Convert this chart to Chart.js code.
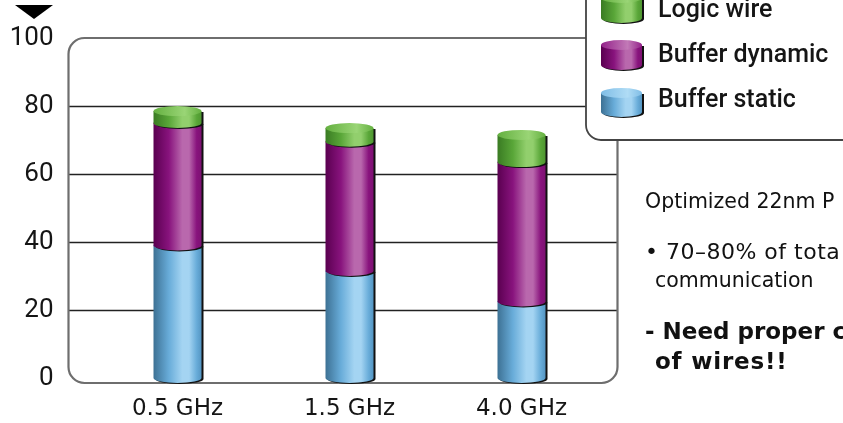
<!DOCTYPE html>
<html>
<head>
<meta charset="utf-8">
<script src="https://cdn.jsdelivr.net/npm/chart.js@4/dist/chart.umd.min.js"></script>
<style>
  html, body { margin: 0; padding: 0; background: #fff; overflow: hidden; }
  #wrap { position: relative; width: 843px; height: 423px; overflow: hidden; }
  #c { position: absolute; left: 0; top: 0; }
  .note { position: absolute; white-space: nowrap; color: #111; font-family: "DejaVu Sans", sans-serif; }
  .plain { font-size: 20.5px; line-height: 20.5px; }
  .strong { font-size: 23px; line-height: 23px; font-weight: bold; }
</style>
</head>
<body>
<div id="wrap">
  <canvas id="c" width="843" height="423"></canvas>
  <div class="note plain" style="left:645px; top:191px;">Optimized 22nm P</div>
  <div class="note plain" style="left:645px; top:242px; font-size:22px; letter-spacing:0.5px;">• 70–80% of tota</div>
  <div class="note plain" style="left:655px; top:270px;">communication</div>
  <div class="note strong" style="left:645px; top:320px;">- Need proper c</div>
  <div class="note strong" style="left:655px; top:350px; letter-spacing:0.8px;">of wires!!</div>
</div>
<script>
// Clock frequencies and power split (% of total), stacked bottom to top
const categories = ['0.5 GHz', '1.5 GHz', '4.0 GHz'];
const bufferStatic = [39, 31.5, 22.5];
const bufferDynamic = [36, 38, 41];
const logicWire = [3.5, 4, 8];
const yTickValues = [0, 20, 40, 60, 80, 100];
const seriesNames = ['Buffer static', 'Buffer dynamic', 'Logic wire'];

// Cylinder shading: left dark, body, highlight, right edge, top face
const palettes = {
  'Buffer static':  { dark: '#3d7194', mid: '#68acd9', light: '#a4d4f2', edge: '#5495c2', topA: '#7fbde6', topB: '#b0dcf5' },
  'Buffer dynamic': { dark: '#5a0050', mid: '#88137d', light: '#b968ad', edge: '#7d1172', topA: '#94228a', topB: '#c27ab7' },
  'Logic wire':     { dark: '#3a7b23', mid: '#59a638', light: '#92cf6d', edge: '#4f9631', topA: '#64b040', topB: '#9ad576' }
};

function bodyPath(ctx, x0, x1, yTop, yBot, ry) {
  const xc = (x0 + x1) / 2, rx = (x1 - x0) / 2;
  ctx.beginPath();
  ctx.moveTo(x0, yTop);
  ctx.lineTo(x0, yBot);
  ctx.ellipse(xc, yBot, rx, ry, 0, Math.PI, 0, true);
  ctx.lineTo(x1, yTop);
  ctx.closePath();
}

function drawCylinder(ctx, x0, x1, yTop, yBot, pal, ry) {
  const xc = (x0 + x1) / 2, rx = (x1 - x0) / 2;
  // dark drop edge on the right and underneath
  ctx.save();
  ctx.translate(2, 1);
  bodyPath(ctx, x0, x1, yTop, yBot, ry);
  ctx.fillStyle = '#111';
  ctx.fill();
  ctx.restore();
  // shaded body
  const g = ctx.createLinearGradient(x0, 0, x1, 0);
  g.addColorStop(0, pal.dark);
  g.addColorStop(0.32, pal.mid);
  g.addColorStop(0.6, pal.light);
  g.addColorStop(0.74, pal.light);
  g.addColorStop(0.9, pal.mid);
  g.addColorStop(1, pal.edge);
  bodyPath(ctx, x0, x1, yTop, yBot, ry);
  ctx.fillStyle = g;
  ctx.fill();
  // top face
  const t = ctx.createLinearGradient(x0, 0, x1, 0);
  t.addColorStop(0, pal.topA);
  t.addColorStop(0.65, pal.topB);
  t.addColorStop(1, pal.topA);
  ctx.beginPath();
  ctx.ellipse(xc, yTop, rx, ry, 0, 0, Math.PI * 2);
  ctx.fillStyle = t;
  ctx.fill();
}

const framePlugin = {
  id: 'frameAndGrid',
  beforeDatasetsDraw(chart) {
    const { ctx, chartArea, scales } = chart;
    const y = scales.y;
    const left = chartArea.left - 23, right = chartArea.right + 10;
    const top = y.getPixelForValue(100), bottom = y.getPixelForValue(0) + 5;
    ctx.save();
    // horizontal grid lines
    ctx.strokeStyle = '#222';
    ctx.lineWidth = 1.3;
    yTickValues.filter(v => v > 0 && v < 100).forEach(v => {
      const py = Math.round(y.getPixelForValue(v)) + 0.5;
      ctx.beginPath();
      ctx.moveTo(left, py);
      ctx.lineTo(right, py);
      ctx.stroke();
    });
    // rounded plot frame
    ctx.strokeStyle = '#6e6e6e';
    ctx.lineWidth = 2.2;
    ctx.beginPath();
    ctx.roundRect(left, top, right - left, bottom - top, 16);
    ctx.stroke();
    // axis arrow head
    ctx.fillStyle = '#000';
    ctx.beginPath();
    ctx.moveTo(15, 5);
    ctx.lineTo(53, 5);
    ctx.lineTo(34, 19);
    ctx.closePath();
    ctx.fill();
    ctx.restore();
  },
  afterDatasetsDraw(chart) {
    const ctx = chart.ctx;
    ctx.save();
    const metas = chart.data.datasets.map((d, i) => chart.getDatasetMeta(i));
    categories.forEach((c, i) => {
      metas.forEach((meta, di) => {
        const bar = meta.data[i];
        const half = bar.width / 2;
        const pal = palettes[chart.data.datasets[di].label];
        drawCylinder(ctx, bar.x - half, bar.x + half, bar.y, bar.base, pal, 5);
      });
    });
    ctx.restore();
  },
  afterDraw(chart) {
    const ctx = chart.ctx;
    ctx.save();
    // legend panel, running off the top-right corner
    ctx.fillStyle = '#fff';
    ctx.strokeStyle = '#444';
    ctx.lineWidth = 1.8;
    ctx.beginPath();
    ctx.roundRect(586, -30, 300, 170, 15);
    ctx.fill();
    ctx.stroke();
    const rows = [
      { name: 'Logic wire', top: -2, bot: 18, ty: 10 },
      { name: 'Buffer dynamic', top: 45, bot: 65, ty: 55 },
      { name: 'Buffer static', top: 93, bot: 112, ty: 100 }
    ];
    ctx.font = '500 25px Roboto, sans-serif';
    ctx.textBaseline = 'middle';
    ctx.textAlign = 'left';
    rows.forEach(r => {
      const ds = chart.data.datasets.find(d => d.label === r.name);
      drawCylinder(ctx, 601, 642, r.top, r.bot, palettes[ds.label], 5);
      ctx.fillStyle = '#151515';
      ctx.fillText(ds.label, 658, r.ty + 1);
    });
    ctx.restore();
  }
};

new Chart(document.getElementById('c'), {
  type: 'bar',
  data: {
    labels: categories,
    datasets: [
      { label: seriesNames[0], data: bufferStatic },
      { label: seriesNames[1], data: bufferDynamic },
      { label: seriesNames[2], data: logicWire }
    ].map(d => Object.assign(d, { backgroundColor: 'rgba(0,0,0,0)', borderWidth: 0, barThickness: 48 }))
  },
  options: {
    responsive: false,
    animation: false,
    layout: { padding: { top: 38, right: 235.5, left: 0, bottom: 0 } },
    plugins: { legend: { display: false }, tooltip: { enabled: false } },
    scales: {
      x: {
        stacked: true,
        grid: { display: false, drawTicks: false },
        border: { display: false },
        ticks: { color: '#151515', padding: 17, font: { family: 'DejaVu Sans', size: 23 } },
        afterFit(scale) { scale.height = 45; }
      },
      y: {
        stacked: true,
        min: 0,
        max: 100,
        grid: { display: false, drawTicks: false },
        border: { display: false },
        afterBuildTicks(scale) { scale.ticks = yTickValues.map(v => ({ value: v })); },
        ticks: { color: '#151515', padding: 38, font: { family: 'Roboto', size: 26 } },
        afterFit(scale) {
          scale.width = 91.5;
          scale.paddingTop = 0;
          scale.paddingBottom = 0;
        }
      }
    }
  },
  plugins: [framePlugin]
});
</script>
</body>
</html>
